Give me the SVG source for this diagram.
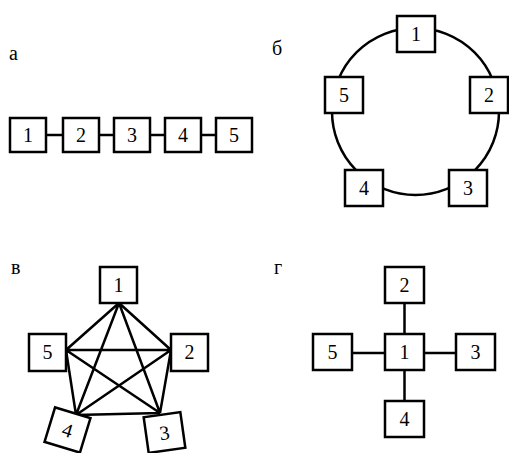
<svg xmlns="http://www.w3.org/2000/svg" width="509" height="453" viewBox="0 0 509 453">
<style>
.b{fill:#fff;stroke:#000;stroke-width:2.5}
.c{fill:none;stroke:#000;stroke-width:2.5}
text{font-family:'Liberation Serif','Times New Roman','DejaVu Serif',serif;font-size:20px;fill:#000}
.t{text-anchor:middle}
</style>
<rect width="509" height="453" fill="#fff"/>
<text x="9" y="60">а</text>
<text x="272" y="55">б</text>
<text x="11" y="274">в</text>
<text x="274" y="274">г</text>
<g id="connectors">
<line class="c" x1="46" y1="135" x2="63" y2="135"/>
<line class="c" x1="99" y1="135" x2="114" y2="135"/>
<line class="c" x1="150" y1="135" x2="165" y2="135"/>
<line class="c" x1="201" y1="135" x2="216" y2="135"/>
<circle class="c" cx="415.5" cy="111.5" r="83.5"/>
<path class="c" d="M119,303 L66,350 M119,303 L171,350 M119,303 L76,415 M119,303 L160,413 M66,350 L171,350 M66,350 L76,415 M66,350 L160,413 M171,350 L76,415 M171,350 L160,413 M76,415 L160,413"/>
<line class="c" x1="404.5" y1="303" x2="404.5" y2="334"/>
<line class="c" x1="404.5" y1="370" x2="404.5" y2="401"/>
<line class="c" x1="352" y1="353" x2="385" y2="353"/>
<line class="c" x1="424" y1="353" x2="456" y2="353"/>
</g>
<g id="a1"><rect class="b" x="10" y="118" width="36" height="34"/><text class="t" x="28" y="142">1</text></g>
<g id="a2"><rect class="b" x="63" y="118" width="36" height="34"/><text class="t" x="81" y="142">2</text></g>
<g id="a3"><rect class="b" x="114" y="118" width="36" height="34"/><text class="t" x="132" y="142">3</text></g>
<g id="a4"><rect class="b" x="165" y="118" width="36" height="34"/><text class="t" x="183" y="142">4</text></g>
<g id="a5"><rect class="b" x="216" y="118" width="36" height="34"/><text class="t" x="234" y="142">5</text></g>
<g id="b1"><rect class="b" x="397" y="16" width="38" height="36"/><text class="t" x="416" y="41">1</text></g>
<g id="b2"><rect class="b" x="470" y="77" width="38" height="36"/><text class="t" x="489" y="102">2</text></g>
<g id="b3"><rect class="b" x="449" y="170" width="38" height="36"/><text class="t" x="468" y="195">3</text></g>
<g id="b4"><rect class="b" x="345" y="170" width="38" height="36"/><text class="t" x="364" y="195">4</text></g>
<g id="b5"><rect class="b" x="325" y="77" width="38" height="36"/><text class="t" x="344" y="102">5</text></g>
<g id="v1"><rect class="b" x="100" y="267" width="37" height="36"/><text class="t" x="118.5" y="292">1</text></g>
<g id="v2"><rect class="b" x="171" y="334" width="37" height="37"/><text class="t" x="189.5" y="359">2</text></g>
<g id="v5"><rect class="b" x="29" y="334" width="37" height="37"/><text class="t" x="47.5" y="359">5</text></g>
<g id="v4" transform="translate(67.5,430) rotate(17)"><rect class="b" x="-18.5" y="-18" width="37" height="36"/><text class="t" x="0" y="7">4</text></g>
<g id="v3" transform="translate(164.5,432.5) rotate(-8)"><rect class="b" x="-18.5" y="-18" width="37" height="36"/><text class="t" x="0" y="7">3</text></g>
<g id="g1"><rect class="b" x="385" y="334" width="39" height="36"/><text class="t" x="404.5" y="359">1</text></g>
<g id="g2"><rect class="b" x="385" y="267" width="39" height="36"/><text class="t" x="404.5" y="292">2</text></g>
<g id="g3"><rect class="b" x="456" y="334" width="39" height="36"/><text class="t" x="475.5" y="359">3</text></g>
<g id="g4"><rect class="b" x="385" y="401" width="39" height="36"/><text class="t" x="404.5" y="426">4</text></g>
<g id="g5"><rect class="b" x="313" y="334" width="39" height="36"/><text class="t" x="332.5" y="359">5</text></g>
</svg>
